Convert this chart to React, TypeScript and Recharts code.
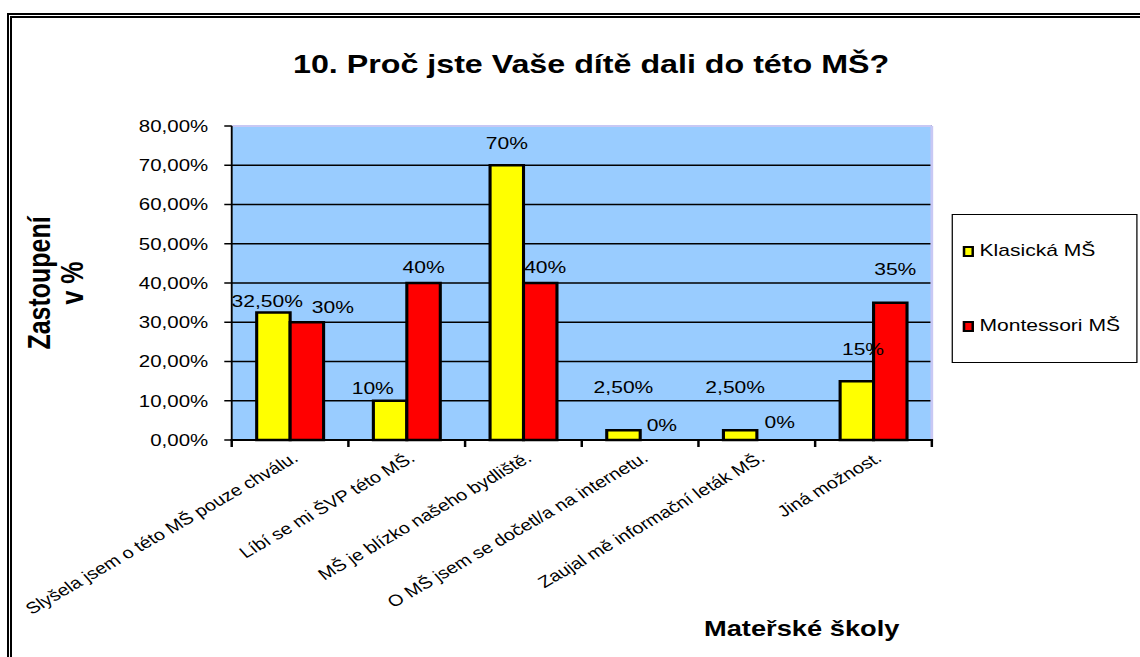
import { BarChart, Bar, XAxis, YAxis, CartesianGrid, ReferenceLine, LabelList, Legend, Label, Rectangle } from "recharts";

const categories = [
  "Slyšela jsem o této MŠ pouze chválu.",
  "Líbí se mi ŠVP této MŠ.",
  "MŠ je blízko našeho bydliště.",
  "O MŠ jsem se dočetl/a na internetu.",
  "Zaujal mě informační leták MŠ.",
  "Jiná možnost.",
];
const klasicka = [32.5, 10, 70, 2.5, 2.5, 15];
const montessori = [30, 40, 40, 0, 0, 35];
const yTicks = [0, 10, 20, 30, 40, 50, 60, 70, 80];

// the data labels were dragged by hand in the original, so nudge them the same way
const klasickaLabelNudge = [[-5, 2], [-14, 0], [0, -9], [0, -30], [-4, -30], [5, -19]];
const montessoriLabelNudge = [[21, -2], [0, -3], [4, -3], [4, -2], [5, -5], [4, -21]];

const data = categories.map((name, i) => ({
  name,
  klasicka: klasicka[i],
  montessori: montessori[i],
}));

const FONT = '"Liberation Sans", Arial, sans-serif';
// the original picture is a stretched Excel chart, so draw narrow and stretch it
const W = 920;
const H = 657;
const SX = 1140 / W;
const PLOT_EDGE = "#C8C8F4";

const pct = (v: number) =>
  Number.isInteger(v) ? `${v}%` : `${v.toFixed(2).replace(".", ",")}%`;
const axisPct = (v: number) => `${v.toFixed(2).replace(".", ",")}%`;

// Excel puts the category ticks between the categories, not under them,
// so the axis line and its ticks are drawn here from the band offsets
function CategoryTick({ x, y, payload, index, visibleTicksCount }: any) {
  const half = payload?.offset ?? 0;
  const last = index === visibleTicksCount - 1;
  return (
    <g>
      <line x1={x - half - 1} x2={x + half + 1} y1={y} y2={y} stroke="#000" strokeWidth={2} />
      <line x1={x - half} x2={x - half} y1={y} y2={y + 7} stroke="#000" strokeWidth={2} />
      {last && <line x1={x + half} x2={x + half} y1={y} y2={y + 7} stroke="#000" strokeWidth={2} />}
      <text
        x={0}
        y={0}
        dy="0.71em"
        textAnchor="end"
        fontSize={16}
        fill="#000"
        fontFamily={FONT}
        transform={`translate(${x + 1},${y + 11}) rotate(-35.6)`}
      >
        {payload.value}
      </text>
    </g>
  );
}

const nudgedLabel = (nudge: number[][]) => (props: any) => {
  const { x, y, width, value, index } = props;
  const [dx, dy] = nudge[index] || [0, 0];
  return (
    <text
      x={Number(x) + Number(width) / 2 + dx}
      y={Number(y) - 7 + dy}
      textAnchor="middle"
      fontSize={17}
      fontFamily={FONT}
      fill="#000"
    >
      {pct(Number(value))}
    </text>
  );
};

// a 0 % bar gets a hair of height so that its label is kept, but draws nothing
const BarShape = (props: any) =>
  props.height < 1 ? <g /> : <Rectangle {...props} />;

function YTitle({ viewBox }: any) {
  const cy = viewBox.y + viewBox.height / 2;
  return (
    <g transform={`translate(40,${cy}) rotate(-90)`} fontFamily={FONT} fontWeight="bold" fontSize={25} fill="#000">
      <text x={0} y={0} textAnchor="middle">Zastoupení</text>
      <text x={0} y={27} textAnchor="middle">v %</text>
    </g>
  );
}

function XTitle() {
  return (
    <text x={647} y={636} textAnchor="middle" fontFamily={FONT} fontWeight="bold" fontSize={22} fill="#000">
      Mateřské školy
    </text>
  );
}

function LegendBox({ payload }: any) {
  return (
    <div
      style={{
        position: "absolute",
        left: 0,
        top: 0,
        width: 150,
        height: 149,
        border: "1.5px solid #000",
        boxSizing: "border-box",
        background: "#fff",
      }}
    >
      {(payload || []).map((p: any, i: number) => (
        <div
          key={p.value}
          style={{
            position: "absolute",
            left: 8,
            top: 26 + i * 75,
            display: "flex",
            alignItems: "center",
            fontSize: 17,
            fontFamily: FONT,
            lineHeight: "20px",
            whiteSpace: "nowrap",
            color: "#000",
          }}
        >
          <span
            style={{
              display: "inline-block",
              width: 9,
              height: 11,
              boxSizing: "border-box",
              border: "2px solid #000",
              background: p.color,
              marginRight: 5,
            }}
          />
          {p.value}
        </div>
      ))}
    </div>
  );
}

export default function App() {
  return (
    <div
      style={{
        position: "absolute",
        left: 0,
        top: 0,
        width: 1140,
        height: 657,
        overflow: "hidden",
        background: "#fff",
      }}
    >
      <div
        style={{
          position: "absolute",
          left: 7,
          top: 13,
          width: 1200,
          height: 700,
          border: "5px double #000",
        }}
      />
      <div
        style={{
          position: "absolute",
          left: 0,
          top: 0,
          width: W,
          height: H,
          transform: `scaleX(${SX})`,
          transformOrigin: "0 0",
        }}
      >
        <div
          style={{
            position: "absolute",
            left: 0,
            top: 51,
            width: 954,
            textAlign: "center",
            fontFamily: FONT,
            fontWeight: "bold",
            fontSize: 26,
            lineHeight: "26px",
            color: "#000",
          }}
        >
          10. Proč jste Vaše dítě dali do této MŠ?
        </div>
        <BarChart
          width={W}
          height={H}
          data={data}
          margin={{ top: 126, right: 168, bottom: 0, left: 0 }}
          barCategoryGap="21.4%"
          barGap={0}
          style={{ fontFamily: FONT }}
        >
          <CartesianGrid vertical={false} stroke="#000" strokeWidth={1.5} fill="#99CCFF" fillOpacity={1} />
          <ReferenceLine y={80} stroke={PLOT_EDGE} strokeWidth={2} />
          <ReferenceLine x={categories[categories.length - 1]} position="end" stroke={PLOT_EDGE} strokeWidth={2.2} />
          <XAxis
            dataKey="name"
            height={217}
            interval={0}
            tickSize={0}
            tickMargin={0}
            axisLine={{ stroke: "#000", strokeWidth: 2 }}
            tickLine={false}
            tick={<CategoryTick />}
          >
            <Label content={XTitle} />
          </XAxis>
          <YAxis
            width={187}
            domain={[0, 80]}
            ticks={yTicks}
            interval={0}
            tickSize={6}
            tickMargin={13}
            tickFormatter={axisPct}
            tick={{ fill: "#000", fontSize: 16.5 }}
            axisLine={{ stroke: "#000", strokeWidth: 1.5 }}
            tickLine={{ stroke: "#000", strokeWidth: 1.5 }}
          >
            <Label content={YTitle} />
          </YAxis>
          <Legend
            content={<LegendBox />}
            wrapperStyle={{ left: 767.5, top: 214, width: 0, height: 0 }}
          />
          <Bar dataKey="klasicka" name="Klasická MŠ" fill="#FFFF00" stroke="#000" strokeWidth={2.5}
            minPointSize={0.01} shape={BarShape} isAnimationActive={false}>
            <LabelList dataKey="klasicka" content={nudgedLabel(klasickaLabelNudge)} />
          </Bar>
          <Bar dataKey="montessori" name="Montessori MŠ" fill="#FF0000" stroke="#000" strokeWidth={2.5}
            minPointSize={0.01} shape={BarShape} isAnimationActive={false}>
            <LabelList dataKey="montessori" content={nudgedLabel(montessoriLabelNudge)} />
          </Bar>
        </BarChart>
      </div>
    </div>
  );
}
